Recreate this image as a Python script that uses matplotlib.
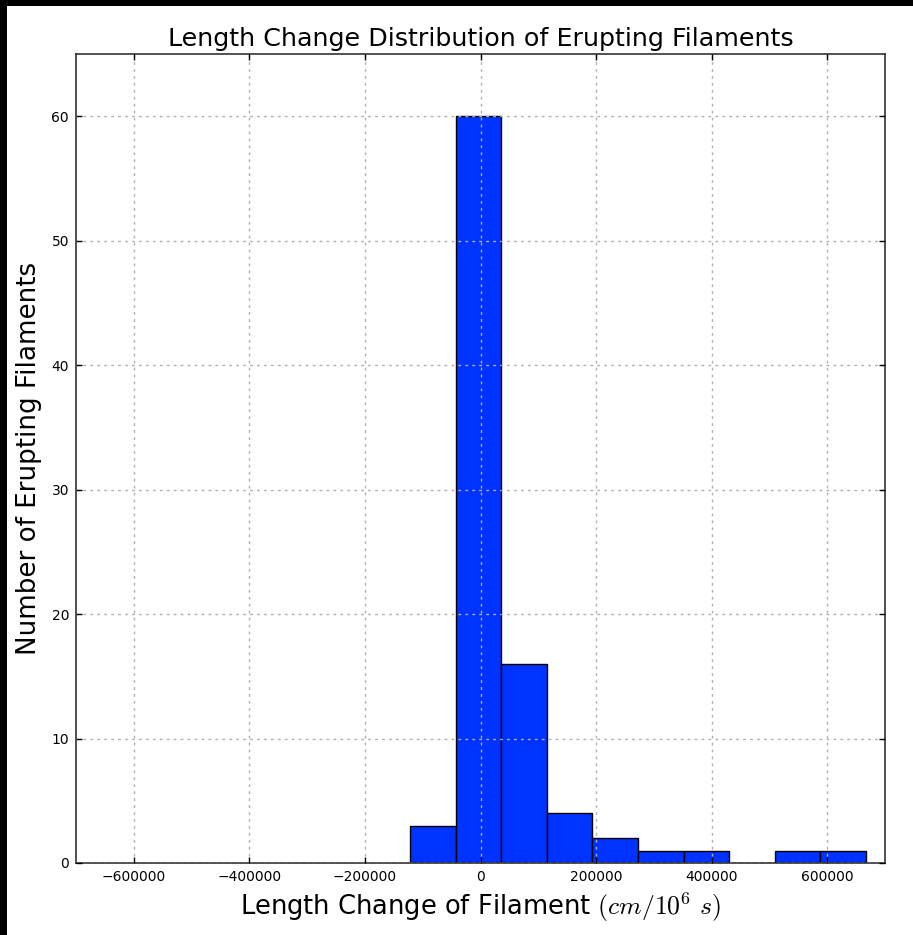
import numpy as np
import matplotlib
matplotlib.use("Agg")
import matplotlib.pyplot as plt
from matplotlib.patches import Rectangle

# Histogram of filament length-change rates (cm / 10^6 s)
bin_lo = -121500.0
bin_hi = 666500.0
counts = [3, 60, 16, 4, 2, 1, 1, 0, 1, 1]
x_ticks = [-600000, -400000, -200000, 0, 200000, 400000, 600000]
y_ticks = [0, 10, 20, 30, 40, 50, 60]

edges = np.linspace(bin_lo, bin_hi, len(counts) + 1)
centers = 0.5 * (edges[:-1] + edges[1:])

plt.rcParams["mathtext.fontset"] = "cm"

fig = plt.figure(figsize=(9.13, 9.35), dpi=100, facecolor="black")
# white canvas with a thin dark margin along the top and left edges
fig.patches.append(Rectangle((7 / 913, 0), 1 - 7 / 913, 1 - 6 / 935,
                             transform=fig.transFigure, facecolor="white",
                             edgecolor="none", zorder=-10))

ax = fig.add_axes([76 / 913, 72 / 935, (885 - 76) / 913, (863 - 54) / 935])
ax.set_facecolor("white")

ax.hist(centers, bins=edges, weights=counts, color="#0033ff",
        edgecolor="black", linewidth=1.0, zorder=2)

ax.set_xlim(-700000, 700000)
ax.set_ylim(0, 65)
ax.set_xticks(x_ticks)
ax.set_yticks(y_ticks)
ax.set_xticklabels([f"{v:d}".replace("-", "\u2212") for v in x_ticks])
ax.set_yticklabels([str(v) for v in y_ticks])

ax.grid(True, color="#b0b0b0", linestyle=(0, (2, 3)), linewidth=1.0, zorder=3)
ax.set_axisbelow(False)
ax.tick_params(direction="in", length=4, width=1, top=True, right=True,
               labelsize=10, pad=5, colors="black")
for s in ax.spines.values():
    s.set_color("#333333")
    s.set_linewidth(1.2)

ax.set_title("Length Change Distribution of Erupting Filaments",
             fontsize=18.3, pad=6)
ax.set_xlabel(r"Length Change of Filament $(cm/10^6\ s)$", fontsize=18.5,
              labelpad=5)
ax.set_ylabel("Number of Erupting Filaments", fontsize=18.8, labelpad=7)

fig.savefig("out.png", dpi=100, facecolor=fig.get_facecolor())
